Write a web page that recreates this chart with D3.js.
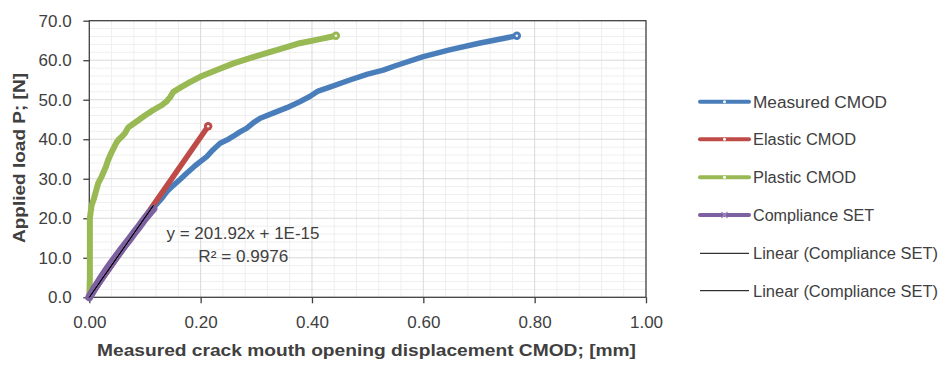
<!DOCTYPE html>
<html><head><meta charset="utf-8">
<script src="https://cdn.jsdelivr.net/npm/d3@7"></script>
<style>
html,body{margin:0;padding:0;background:#fff;}
text{font-family:"Liberation Sans",Arial,sans-serif;fill:#404040;}
</style></head>
<body><svg id="c" width="942" height="365"></svg>
<script>
// ---- data ----
const xTicks = [0, 0.2, 0.4, 0.6, 0.8, 1.0];
const yTicks = [0, 10, 20, 30, 40, 50, 60, 70];
const xLabel = "Measured crack mouth opening displacement CMOD; [mm]";
const yLabel = "Applied load P; [N]";

const measuredX = [0,0.02,0.05,0.08,0.10,0.115,0.13,0.139,0.15,0.163,0.175,0.19,0.20,0.211,0.222,0.235,0.247,0.258,0.27,0.283,0.295,0.307,0.33,0.355,0.378,0.396,0.411,0.432,0.468,0.50,0.528,0.55,0.60,0.647,0.70,0.768];
const measuredY = [0,4.0,10.0,16.0,20.0,22.6,25.0,26.7,28.2,29.8,31.4,33.3,34.4,35.6,37.3,39.0,39.8,40.7,41.8,42.8,44.2,45.3,46.6,48.0,49.5,50.8,52.2,53.2,55.0,56.5,57.5,58.6,60.9,62.6,64.3,66.2];

const elasticX = [0,0.05,0.10,0.15,0.2135];
const elasticY = [0,10.1,20.3,30.4,43.3];

const plasticX = [0,0.001,0.001,0.001,0.001,0.004,0.008,0.016,0.022,0.030,0.034,0.040,0.046,0.049,0.052,0.058,0.064,0.070,0.078,0.085,0.10,0.115,0.13,0.139,0.145,0.151,0.165,0.18,0.199,0.23,0.259,0.29,0.318,0.35,0.378,0.41,0.443];
const plasticY = [0,5,10,15,20,23.2,24.8,28.9,30.5,33.1,34.8,36.7,38.4,39.2,39.8,40.6,41.5,43.0,43.8,44.5,46.0,47.4,48.6,49.6,50.6,52.0,53.2,54.4,55.8,57.6,59.2,60.6,61.8,63.1,64.3,65.2,66.2];

const complianceX = [0,0.01,0.02,0.03,0.04,0.05,0.06,0.07,0.08,0.09,0.10,0.11,0.115];
const complianceY = [0,2.4,4.6,6.7,8.7,10.6,12.5,14.3,16.2,18.0,19.9,21.6,22.4];

const trendSlope = 201.92, trendIntercept = 1e-15;
const eqText = "y = 201.92x + 1E-15";
const r2Text = "R² = 0.9976";

const legendNames = ["Measured CMOD","Elastic CMOD","Plastic CMOD","Compliance SET","Linear (Compliance SET)","Linear (Compliance SET)"];
const colors = ["#4a7ebb","#be4b48","#98b954","#7d60a0","#000000","#000000"];

// ---- chart ----
const svg = d3.select("#c");
const x = d3.scaleLinear().domain([0,1]).range([89.3,646]);
const y = d3.scaleLinear().domain([0,70]).range([297.3,20.7]);

const g = svg.append("g");
// minor grid
const xMinor = d3.range(1,25).map(i=>i*0.04).filter(v=>Math.abs(v/0.2-Math.round(v/0.2))>1e-6);
const yMinor = d3.range(1,35).map(i=>i*2).filter(v=>v%10!==0);
g.selectAll(".xm").data(xMinor).join("line").attr("x1",d=>x(d)).attr("x2",d=>x(d)).attr("y1",y(0)).attr("y2",y(70)).attr("stroke","#efefef").attr("stroke-width",1);
g.selectAll(".ym").data(yMinor).join("line").attr("y1",d=>y(d)).attr("y2",d=>y(d)).attr("x1",x(0)).attr("x2",x(1)).attr("stroke","#efefef").attr("stroke-width",1);
// major grid
g.selectAll(".xM").data(xTicks.slice(1,-1)).join("line").attr("x1",d=>x(d)).attr("x2",d=>x(d)).attr("y1",y(0)).attr("y2",y(70)).attr("stroke","#d9d9d9").attr("stroke-width",1);
g.selectAll(".yM").data(yTicks.slice(1,-1)).join("line").attr("y1",d=>y(d)).attr("y2",d=>y(d)).attr("x1",x(0)).attr("x2",x(1)).attr("stroke","#d9d9d9").attr("stroke-width",1);
// frame
g.append("rect").attr("x",x(0)).attr("y",y(70)).attr("width",x(1)-x(0)).attr("height",y(0)-y(70)).attr("fill","none").attr("stroke","#404040").attr("stroke-width",1.3);

// axes
const ax = svg.append("g").attr("transform",`translate(0,${y(0)})`)
  .call(d3.axisBottom(x).tickValues(xTicks).tickFormat(d3.format(".2f")).tickSize(6).tickSizeOuter(0));
ax.select(".domain").remove();
ax.selectAll("line").attr("stroke","#404040").attr("stroke-width",1.3);
ax.selectAll("text").attr("y",31).attr("dy",0).style("font-size","17px").attr("fill","#404040");

const ay = svg.append("g").attr("transform",`translate(${x(0)},0)`)
  .call(d3.axisLeft(y).tickValues(yTicks).tickFormat(d3.format(".1f")).tickSize(6).tickPadding(11.6).tickSizeOuter(0));
ay.select(".domain").remove();
ay.selectAll("line").attr("stroke","#404040").attr("stroke-width",1.3);
ay.selectAll("text").style("font-size","17px").attr("fill","#404040");

// axis titles
svg.append("text").attr("x",366.5).attr("y",356).attr("text-anchor","middle")
  .style("font-size","17px").style("font-weight","bold").attr("textLength",539).attr("lengthAdjust","spacingAndGlyphs").text(xLabel);
svg.append("text").attr("transform","translate(25,158) rotate(-90)").attr("text-anchor","middle")
  .style("font-size","17px").style("font-weight","bold").attr("textLength",170).attr("lengthAdjust","spacingAndGlyphs").text(yLabel);

// series
const line = d3.line().x(d=>x(d[0])).y(d=>y(d[1]));
const zip = (a,b)=>a.map((v,i)=>[v,b[i]]);
const series = [
  {pts:zip(measuredX,measuredY), c:colors[0], w:5.5},
  {pts:zip(elasticX,elasticY), c:colors[1], w:5.5},
  {pts:zip(plasticX,plasticY), c:colors[2], w:6},
  {pts:zip(complianceX,complianceY), c:colors[3], w:8},
];
const order = [0,2,1,3];
order.forEach(i=>{
  const s = series[i];
  svg.append("path").datum(s.pts).attr("d",line).attr("fill","none").attr("stroke",s.c)
    .attr("stroke-width",s.w).attr("stroke-linejoin","round").attr("stroke-linecap","round");
  if (i<3) {
    const e = s.pts[s.pts.length-1];
    svg.append("circle").attr("cx",x(e[0])).attr("cy",y(e[1])).attr("r",4.2).attr("fill",s.c);
    svg.append("circle").attr("cx",x(e[0])).attr("cy",y(e[1])).attr("r",1.3).attr("fill","#f4f4f4");
  }
});
// trendlines (two identical)
const tX = [0, d3.max(complianceX)];
for (let k=0;k<2;k++){
  svg.append("path").datum(tX.map(v=>[v,trendSlope*v+trendIntercept])).attr("d",line)
    .attr("fill","none").attr("stroke","#000").attr("stroke-width",1);
}
// equation
svg.append("text").attr("x",243).attr("y",239).attr("text-anchor","middle").style("font-size","16.5px").attr("fill","#404040").attr("textLength",153).attr("lengthAdjust","spacingAndGlyphs").text(eqText);
svg.append("text").attr("x",243.3).attr("y",262).attr("text-anchor","middle").style("font-size","16.5px").attr("fill","#404040").attr("textLength",90).attr("lengthAdjust","spacingAndGlyphs").text(r2Text);

// legend
const legY = [101.7,139.3,177.3,215,253.3,290.7];
const legW = [134,103,103,121,185,185];
legendNames.forEach((n,i)=>{
  const lg = svg.append("g");
  const thick = i<4;
  lg.append("line").attr("x1",700).attr("x2",749).attr("y1",legY[i]).attr("y2",legY[i])
    .attr("stroke",colors[i]).attr("stroke-width",thick?4:1).attr("stroke-linecap",thick?"round":"butt");
  if (i<3) {
    lg.append("circle").attr("cx",724.5).attr("cy",legY[i]).attr("r",1.5).attr("fill","#fff");
  } else if (i===3) {
    lg.append("path").attr("d",`M721.5,${legY[i]-3}L727.5,${legY[i]+3}M721.5,${legY[i]+3}L727.5,${legY[i]-3}`)
      .attr("stroke","#9c87bb").attr("stroke-width",1.2);
  }
  lg.append("text").attr("x",753).attr("y",legY[i]+6).style("font-size","16px").attr("fill","#404040")
    .attr("textLength",legW[i]).attr("lengthAdjust","spacingAndGlyphs").text(n);
});
</script></body></html>
